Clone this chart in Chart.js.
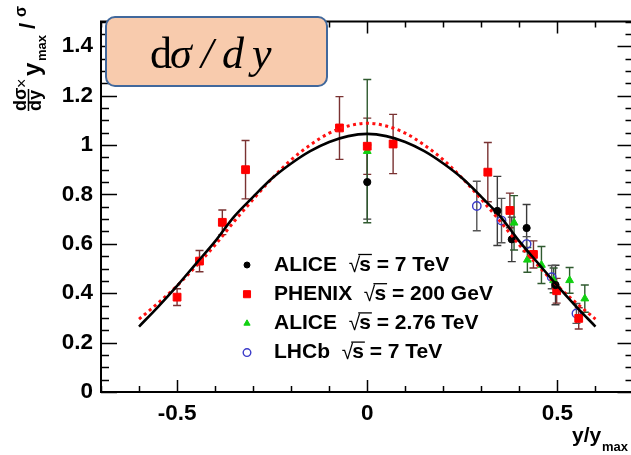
<!DOCTYPE html>
<html><head><meta charset="utf-8">
<script src="https://cdn.jsdelivr.net/npm/chart.js@4/dist/chart.umd.min.js"></script>
<style>html,body{margin:0;padding:0;background:#fff;overflow:hidden;width:631px;height:455px}canvas{display:block}</style>
</head><body><canvas id="c" width="640" height="455"></canvas>
<script>
// ---- data ----
const curveX = [-0.60,-0.55,-0.50,-0.45,-0.40,-0.35,-0.30,-0.25,-0.20,-0.15,-0.10,-0.05,0.00,0.05,0.10,0.15,0.20,0.25,0.30,0.35,0.40,0.45,0.50,0.55,0.60];
const fitSolid = [0.265,0.345,0.43,0.52,0.61,0.71,0.79,0.865,0.925,0.975,1.012,1.036,1.045,1.036,1.012,0.975,0.925,0.865,0.79,0.71,0.61,0.52,0.43,0.345,0.265];
const fitDotted = [0.295,0.36,0.43,0.51,0.595,0.69,0.78,0.865,0.94,1.0,1.048,1.077,1.088,1.077,1.048,1.0,0.94,0.865,0.78,0.69,0.595,0.51,0.43,0.36,0.295];

const alice7X = [0.0, 0.342, 0.38, 0.419, 0.495];
const alice7Y = [0.85, 0.733, 0.618, 0.664, 0.433];
const alice7Err = [0.15, 0.14, 0.09, 0.095, 0.08];

const phenixX = [-0.50, -0.441, -0.381, -0.32, -0.073, 0.0, 0.068, 0.317, 0.375, 0.437, 0.498, 0.556];
const phenixY = [0.384, 0.53, 0.687, 0.90, 1.069, 0.995, 1.004, 0.89, 0.735, 0.557, 0.41, 0.298];
const phenixErr = [0.034, 0.043, 0.05, 0.118, 0.127, 0.114, 0.12, 0.12, 0.07, 0.055, 0.05, 0.043];

const alice276X = [0.0, 0.386, 0.421, 0.458, 0.49, 0.532, 0.572];
const alice276Y = [0.975, 0.685, 0.535, 0.514, 0.452, 0.452, 0.378];
const alice276Err = [0.29, 0.11, 0.05, 0.075, 0.05, 0.052, 0.055];

const lhcbX = [0.288, 0.353, 0.419, 0.485, 0.55];
const lhcbY = [0.753, 0.694, 0.599, 0.465, 0.318];
const lhcbErr = [0.10, 0.09, 0.03, 0.047, 0.04];

const experiments = ['ALICE', 'PHENIX', 'ALICE', 'LHCb'];
const energies = ['7 TeV', '200 GeV', '2.76 TeV', '7 TeV'];

const xTickLabels = [-0.5, 0, 0.5];
const yTickLabels = [0, 0.2, 0.4, 0.6, 0.8, 1, 1.2, 1.4];
const boxTitle = ['d', 'σ', '/', 'd', 'y'];

// ---- helpers ----
const pts = (xs, ys) => xs.map((v, i) => ({x: v, y: ys[i]}));
const FONT = '"Liberation Sans", Arial, Helvetica, sans-serif';

const errorBars = {
  id: 'errorBars',
  beforeDatasetsDraw(chart) {
    const {ctx, scales: {x, y}} = chart;
    chart.data.datasets.forEach(ds => {
      if (!ds.errors) return;
      ctx.save();
      ctx.strokeStyle = ds.errorColor;
      ctx.lineWidth = 1.4;
      ds.data.forEach((p, j) => {
        const e = ds.errors[j];
        const px = x.getPixelForValue(p.x);
        const t = y.getPixelForValue(p.y + e), b = y.getPixelForValue(p.y - e);
        ctx.beginPath();
        ctx.moveTo(px, t); ctx.lineTo(px, b);
        ctx.moveTo(px - 4, t); ctx.lineTo(px + 4, t);
        ctx.moveTo(px - 4, b); ctx.lineTo(px + 4, b);
        ctx.stroke();
      });
      ctx.restore();
    });
  }
};

const frame = {
  id: 'frame',
  afterDatasetsDraw(chart) {
    const {ctx, chartArea: a, scales: {x, y}} = chart;
    ctx.save();
    ctx.strokeStyle = '#000';
    ctx.lineWidth = 1.5;
    ctx.beginPath();
    for (let k = -7; k <= 7; k++) {
      const v = k / 10;
      const px = Math.round(x.getPixelForValue(v)) + 0.5;
      const len = (k % 5 === 0) ? 12 : 6;
      ctx.moveTo(px, a.bottom); ctx.lineTo(px, a.bottom - len);
      ctx.moveTo(px, a.top); ctx.lineTo(px, a.top + len);
    }
    for (let k = 0; k <= 30; k++) {
      const v = k / 20;
      const py = Math.round(y.getPixelForValue(v)) + 0.5;
      const len = (k % 4 === 0) ? 16 : 8;
      ctx.moveTo(a.left, py); ctx.lineTo(a.left + len, py);
      ctx.moveTo(a.right, py); ctx.lineTo(a.right - len, py);
    }
    ctx.stroke();
    ctx.lineWidth = 2;
    ctx.strokeRect(a.left, a.top, a.right - a.left, a.bottom - a.top);
    ctx.restore();
  }
};

const decorations = {
  id: 'decorations',
  afterDraw(chart) {
    const ctx = chart.ctx;
    const H = Chart.helpers;
    // legend
    const pointSets = chart.data.datasets.filter(d => d.errors);
    pointSets.forEach((ds, i) => {
      const cy = 265 + i * 29.2;
      ctx.save();
      ctx.fillStyle = ds.backgroundColor; ctx.strokeStyle = ds.borderColor;
      ctx.lineWidth = ds.borderWidth;
      H.drawPoint(ctx, {pointStyle: ds.pointStyle, radius: ds.legendRadius, borderWidth: ds.borderWidth, rotation: 0}, 247, cy);
      ctx.restore();
      ctx.save();
      ctx.fillStyle = '#000';
      ctx.font = 'bold 21px ' + FONT;
      ctx.textBaseline = 'middle';
      const parts = ds.label.split('√s');
      let tx = 274;
      ctx.fillText(parts[0], tx, cy);
      tx += ctx.measureText(parts[0]).width;
      ctx.font = '21px ' + FONT;
      ctx.fillText('√', tx, cy + 1);
      const rw = ctx.measureText('√').width;
      ctx.font = 'bold 21px ' + FONT;
      const sw = ctx.measureText('s').width;
      ctx.fillText('s', tx + rw - 1, cy);
      ctx.lineWidth = 1.3;
      ctx.beginPath(); ctx.moveTo(tx + rw - 2, cy - 10.5); ctx.lineTo(tx + rw + sw, cy - 10.5); ctx.stroke();
      ctx.fillText(parts[1], tx + rw + sw - 1, cy);
      ctx.restore();
    });

    // x axis title
    ctx.save();
    ctx.fillStyle = '#000';
    ctx.font = 'bold 21px ' + FONT;
    ctx.textBaseline = 'alphabetic';
    ctx.fillText('y/y', 572, 442);
    ctx.font = 'bold 13px ' + FONT;
    ctx.fillText('max', 602, 451);
    ctx.restore();

    // y axis title (rotated)
    ctx.save();
    ctx.translate(0, 112);
    ctx.rotate(-Math.PI / 2);
    ctx.fillStyle = '#000';
    ctx.strokeStyle = '#000';
    ctx.textBaseline = 'alphabetic';
    ctx.font = 'bold 18px ' + FONT;
    ctx.fillText('dσ', 1, 26);
    ctx.lineWidth = 1.5;
    ctx.beginPath(); ctx.moveTo(1, 28.5); ctx.lineTo(23, 28.5); ctx.stroke();
    ctx.fillText('dy', 1, 41);
    ctx.font = '16px ' + FONT;
    ctx.fillText('×', 24, 27);
    ctx.font = 'bold 24px ' + FONT;
    ctx.fillText('y', 36, 40);
    ctx.font = 'bold 13px ' + FONT;
    ctx.fillText('max', 51, 46);
    ctx.font = 'bold 22px ' + FONT;
    ctx.fillText('/', 83, 35);
    ctx.font = 'bold 16px ' + FONT;
    ctx.fillText('σ', 95, 26);
    ctx.restore();

    // annotation box
    ctx.save();
    const bx = 106, by = 17, bw = 221, bh = 69, r = 9;
    ctx.beginPath();
    ctx.moveTo(bx + r, by);
    ctx.arcTo(bx + bw, by, bx + bw, by + bh, r);
    ctx.arcTo(bx + bw, by + bh, bx, by + bh, r);
    ctx.arcTo(bx, by + bh, bx, by, r);
    ctx.arcTo(bx, by, bx + bw, by, r);
    ctx.closePath();
    ctx.fillStyle = '#F8CBAD';
    ctx.fill();
    ctx.lineWidth = 2;
    ctx.strokeStyle = '#41689C';
    ctx.stroke();
    ctx.fillStyle = '#000';
    ctx.textBaseline = 'alphabetic';
    const xs = [150, 170, 201, 222, 252];
    boxTitle.forEach((s, i) => {
      ctx.font = (i === 0 ? '' : 'italic ') + '44px "Liberation Serif", "DejaVu Serif", serif';
      ctx.fillText(s, xs[i], 68);
    });
    ctx.restore();
  }
};

const fmt = v => String(Math.round(v * 10) / 10);

new Chart(document.getElementById('c'), {
  type: 'scatter',
  data: {
    datasets: [
      {label: 'fit', data: pts(curveX, fitSolid), showLine: true, pointRadius: 0, borderColor: '#000', borderWidth: 2.6, cubicInterpolationMode: 'monotone', order: 0},
      {label: 'fit2', data: pts(curveX, fitDotted), showLine: true, pointRadius: 0, borderColor: '#ff1010', borderWidth: 3, borderDash: [3, 3.5], cubicInterpolationMode: 'monotone', order: 1},
      {label: experiments[0] + '  √s = ' + energies[0], data: pts(alice7X, alice7Y), errors: alice7Err, errorColor: '#3a3a3a', pointStyle: 'circle', pointRadius: 3.6, legendRadius: 3, backgroundColor: '#000', borderColor: '#000', borderWidth: 1, order: 2},
      {label: experiments[1] + '  √s = ' + energies[1], data: pts(phenixX, phenixY), errors: phenixErr, errorColor: '#7a3232', pointStyle: 'rect', pointRadius: 5.5, legendRadius: 5, backgroundColor: '#ff0000', borderColor: '#ff0000', borderWidth: 1, order: 3},
      {label: experiments[2] + '  √s = ' + energies[2], data: pts(alice276X, alice276Y), errors: alice276Err, errorColor: '#2f5a2f', pointStyle: 'triangle', pointRadius: 4.5, legendRadius: 3.6, backgroundColor: '#10d010', borderColor: '#10d010', borderWidth: 1, order: 4},
      {label: experiments[3] + '  √s = ' + energies[3], data: pts(lhcbX, lhcbY), errors: lhcbErr, errorColor: '#555', pointStyle: 'circle', pointRadius: 4.2, legendRadius: 3.8, backgroundColor: 'rgba(0,0,0,0)', borderColor: '#3a3ac8', borderWidth: 1.4, order: 5}
    ]
  },
  options: {
    responsive: false,
    animation: false,
    devicePixelRatio: 1,
    layout: {padding: {top: 9, right: 6, left: 0, bottom: 0}},
    plugins: {legend: {display: false}, tooltip: {enabled: false}},
    scales: {
      x: {
        type: 'linear', min: -0.7, max: 0.7,
        grid: {display: false, drawTicks: false},
        border: {display: false},
        afterBuildTicks: s => { s.ticks = xTickLabels.map(v => ({value: v})); },
        afterFit: s => { s.height = 63; },
        ticks: {
          autoSkip: false, maxRotation: 0, padding: 8, color: '#000',
          font: {family: FONT, size: 22.5, weight: 'bold'},
          callback: v => fmt(v)
        }
      },
      y: {
        type: 'linear', min: 0, max: 1.5,
        grid: {display: false, drawTicks: false},
        border: {display: false},
        afterBuildTicks: s => { s.ticks = yTickLabels.map(v => ({value: v})); },
        afterFit: s => { s.width = 101; },
        ticks: {
          autoSkip: false, padding: 8, color: '#000',
          font: {family: FONT, size: 22.5, weight: 'bold'},
          callback: v => fmt(v)
        }
      }
    }
  },
  plugins: [errorBars, frame, decorations]
});
</script>
</body></html>
